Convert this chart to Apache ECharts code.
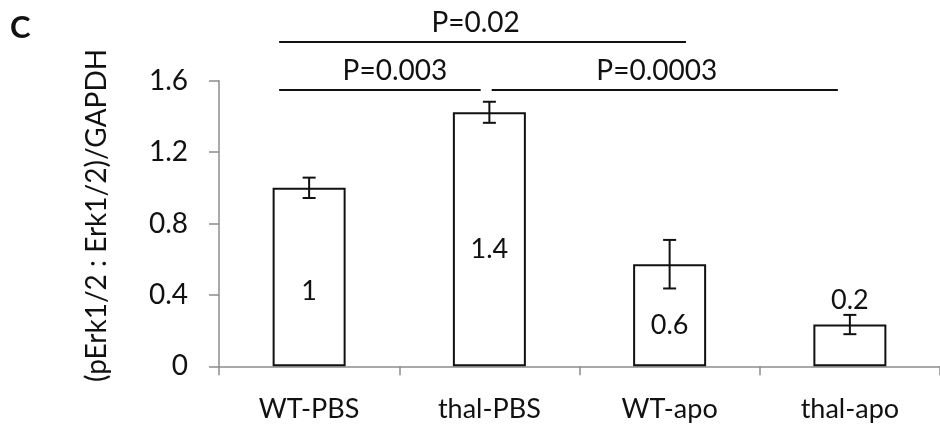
<!DOCTYPE html>
<html>
<head>
<meta charset="utf-8">
<script src="https://cdn.jsdelivr.net/npm/echarts@6/dist/echarts.min.js"></script>
<style>html,body{margin:0;padding:0;background:#fff}#c{width:940px;height:425px}</style>
</head>
<body>
<div id="c"></div>
<script>
// ---- data ----
const categories = ['WT-PBS', 'thal-PBS', 'WT-apo', 'thal-apo'];
const means = [1.0, 1.423, 0.572, 0.234];
const errors = [0.057, 0.059, 0.136, 0.054];
const valueLabels = ['1', '1.4', '0.6', '0.2'];
const yMin = 0, yMax = 1.6, yInterval = 0.4;
const compFrom = [0, 0, 1];
const compTo = [2, 1, 3];
const compText = ['P=0.02', 'P=0.003', 'P=0.0003'];
const compLevel = [2, 1, 1];
const yAxisTitle = '(pErk1/2 : Erk1/2)/GAPDH';
const panelLetter = 'C';

// ---- layout tweaks (pixels, not data) ----
const labelOffsetY = [14, 10, 10, 0];
const labelPos = ['inside', 'inside', 'inside', 'top'];
const bracketDx = [[-30, 16.4], [-30, -8.7], [2.3, -12]];
const textDx = [-7, 15, -8];
const levelDy = {1: 9.3, 2: -38.7};
const FONT = 'Lato';
const TXT = '#111';

const chart = echarts.init(document.getElementById('c'), null, {renderer: 'canvas'});

const barData = means.map((v, i) => ({
  value: v,
  label: {
    show: true,
    position: labelPos[i],
    distance: 11,
    offset: [0, labelOffsetY[i]],
    formatter: () => valueLabels[i],
    fontFamily: FONT, fontSize: 27, color: TXT
  }
}));

const errData = means.map((v, i) => [i, v - errors[i], v + errors[i]]);
const compData = compFrom.map((f, i) => [f, compTo[i], compLevel[i], i]);

chart.setOption({
  backgroundColor: '#fff',
  animation: false,
  title: {
    text: panelLetter, left: 5, top: 7,
    textStyle: {fontFamily: FONT, fontWeight: 'bold', fontSize: 31, color: TXT}
  },
  grid: {left: 219, top: 80.7, width: 722, height: 285.6, containLabel: false},
  xAxis: {
    type: 'category',
    data: categories,
    axisLine: {lineStyle: {color: '#8c8c8c', width: 1.5}},
    axisTick: {show: true, length: 9, lineStyle: {color: '#8c8c8c', width: 1.5}},
    axisLabel: {fontFamily: FONT, fontSize: 27, color: TXT, margin: 29}
  },
  yAxis: {
    type: 'value', min: yMin, max: yMax, interval: yInterval,
    name: yAxisTitle, nameLocation: 'middle', nameGap: 108, nameRotate: 90,
    nameTextStyle: {fontFamily: FONT, fontSize: 28, color: TXT, padding: [0, 0, 0, 16]},
    splitLine: {show: false},
    axisLine: {show: true, lineStyle: {color: '#8c8c8c', width: 1.5}},
    axisTick: {show: true, length: 10, lineStyle: {color: '#8c8c8c', width: 1.5}},
    axisLabel: {fontFamily: FONT, fontSize: 28, color: TXT, margin: 31,
      formatter: v => (v === 0 ? '0' : v.toFixed(1))}
  },
  series: [
    {
      type: 'bar',
      data: barData,
      barWidth: 73,
      itemStyle: {color: '#fff', borderColor: '#111', borderWidth: 2}
    },
    {
      type: 'custom',
      data: errData,
      z: 5,
      renderItem: (params, api) => {
        const x = api.value(0);
        const lo = api.coord([x, api.value(1)]);
        const hi = api.coord([x, api.value(2)]);
        const hw = 6.5;
        const st = {stroke: '#111', lineWidth: 2};
        return {type: 'group', children: [
          {type: 'line', shape: {x1: lo[0], y1: lo[1], x2: hi[0], y2: hi[1]}, style: st},
          {type: 'line', shape: {x1: hi[0] - hw, y1: hi[1], x2: hi[0] + hw, y2: hi[1]}, style: st},
          {type: 'line', shape: {x1: lo[0] - hw, y1: lo[1], x2: lo[0] + hw, y2: lo[1]}, style: st}
        ]};
      }
    },
    {
      type: 'custom',
      data: compData,
      clip: false,
      z: 6,
      renderItem: (params, api) => {
        const k = api.value(3);
        const top = api.coord([0, yMax])[1];
        const y = top + levelDy[api.value(2)];
        const x1 = api.coord([api.value(0), 0])[0] + bracketDx[k][0];
        const x2 = api.coord([api.value(1), 0])[0] + bracketDx[k][1];
        return {type: 'group', children: [
          {type: 'line', shape: {x1: x1, y1: y, x2: x2, y2: y}, style: {stroke: '#111', lineWidth: 2}},
          {type: 'text', x: (x1 + x2) / 2 + textDx[k], y: y - 19,
            style: {text: compText[k], fontFamily: FONT, fontSize: 28, fill: TXT,
              align: 'center', verticalAlign: 'middle'}}
        ]};
      }
    }
  ]
});
</script>
</body>
</html>
